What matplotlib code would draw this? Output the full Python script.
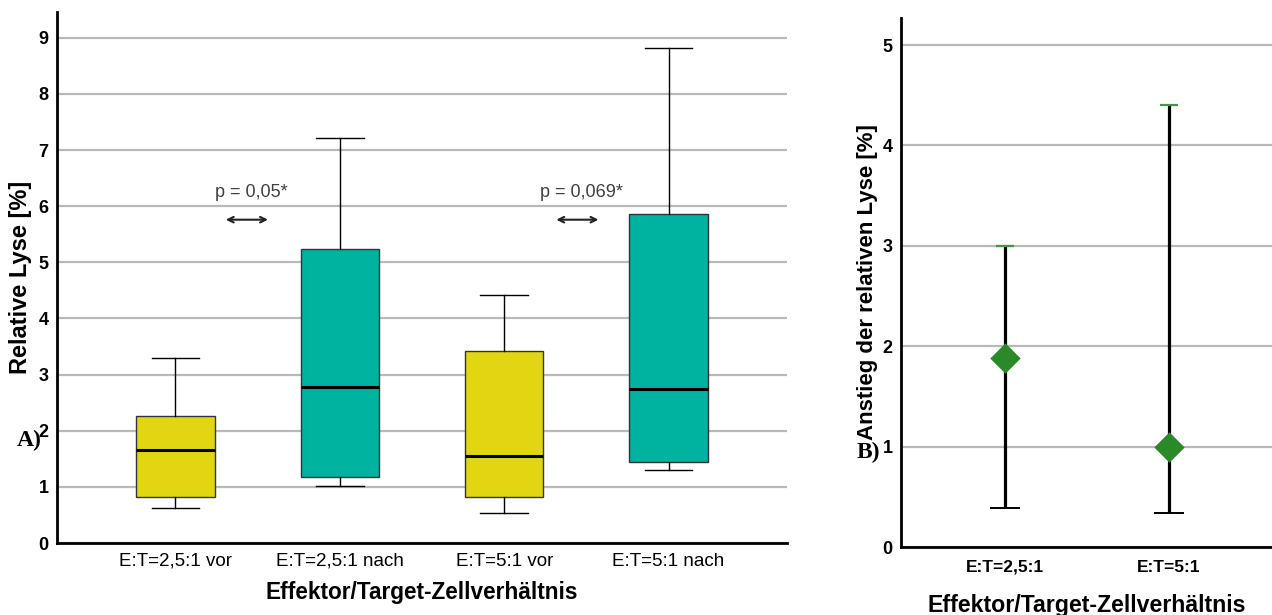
import numpy as np
import matplotlib.pyplot as plt

# Panel A: boxplot values
groups = ['E:T=2,5:1 vor', 'E:T=2,5:1 nach', 'E:T=5:1 vor', 'E:T=5:1 nach']
whislo = [0.62, 1.02, 0.53, 1.30]
q1 = [0.82, 1.18, 0.82, 1.44]
med = [1.66, 2.78, 1.55, 2.74]
q3 = [2.26, 5.24, 3.42, 5.86]
whishi = [3.30, 7.22, 4.42, 8.82]
box_colors = ['#e1d611', '#00b2a0', '#e1d611', '#00b2a0']
p_texts = ['p = 0,05*', 'p = 0,069*']

# Panel B: mean increase with CI
ratios = ['E:T=2,5:1', 'E:T=5:1']
means = [1.88, 1.00]
ci_low = [0.39, 0.34]
ci_high = [3.00, 4.40]

plt.rcParams['font.family'] = ['Liberation Sans', 'DejaVu Sans']

fig = plt.figure(figsize=(12.72, 6.15), dpi=100)
grid_col = '#b9b9b9'

# ---- panel A ----
ax = fig.add_axes([57/1272, 72/615, 730/1272, 531/615])
stats = []
for i in range(len(groups)):
    stats.append({'whislo': whislo[i], 'q1': q1[i], 'med': med[i],
                  'q3': q3[i], 'whishi': whishi[i], 'fliers': []})
bp = ax.bxp(stats, positions=range(len(groups)), widths=0.476, patch_artist=True,
            showfliers=False,
            boxprops=dict(edgecolor='#333333', linewidth=1.0),
            medianprops=dict(color='black', linewidth=2.2),
            whiskerprops=dict(color='black', linewidth=1.0),
            capprops=dict(color='black', linewidth=1.0), capwidths=0.29)
for patch, c in zip(bp['boxes'], box_colors):
    patch.set_facecolor(c)

ax.set_xlim(-0.72, 3.72)
ax.set_ylim(0, 9.46)
ax.set_yticks(range(10))
ax.yaxis.grid(True, color=grid_col, linewidth=1.6)
ax.set_axisbelow(True)
ax.set_xticks(range(len(groups)))
ax.set_xticklabels(groups, fontsize=13.5)
for lab in ax.get_yticklabels():
    lab.set_fontweight('bold')
    lab.set_fontsize(13)
ax.tick_params(length=0, pad=7)
ax.tick_params(axis='y', pad=6)
for s in ['top', 'right']:
    ax.spines[s].set_visible(False)
for s in ['left', 'bottom']:
    ax.spines[s].set_linewidth(2)
ax.set_ylabel('Relative Lyse [%]', fontsize=17, fontweight='bold', labelpad=5)
ax.set_xlabel('Effektor/Target-Zellverhältnis', fontsize=16.3, fontweight='bold', labelpad=8)

for k, xc in enumerate([0.46, 2.47]):
    ax.text(xc, 6.24, p_texts[k], ha='center', va='center', fontsize=13, color='#404040')
    ax.annotate('', xy=(xc - 0.17, 5.76), xytext=(xc + 0.12, 5.76),
                arrowprops=dict(arrowstyle='<->', color='#222222', lw=1.5))

# ---- panel B ----
bx = fig.add_axes([901/1272, 68/615, 371/1272, 529/615])
xs = np.arange(len(ratios))
yerr = [np.array(means) - np.array(ci_low), np.array(ci_high) - np.array(means)]
bx.errorbar(xs, means, yerr=yerr, fmt='none', ecolor='black', elinewidth=2.3,
            capsize=0, zorder=3)
bx.plot(xs, ci_low, ls='none', marker='_', markersize=22, mew=1.4, color='black', zorder=3)
bx.plot(xs, ci_high, ls='none', marker='_', markersize=13, mew=1.6, color='#3f9a3f', zorder=3)
bx.scatter(xs, means, marker='D', s=240, color='#2a8a2a', zorder=4, linewidths=0)
bx.set_xlim(-0.634, 1.63)
bx.set_ylim(0, 5.27)
bx.set_yticks(range(6))
bx.yaxis.grid(True, color=grid_col, linewidth=1.6)
bx.set_axisbelow(True)
bx.set_xticks(xs)
bx.set_xticklabels(ratios, fontsize=12.5, fontweight='bold')
for lab in bx.get_yticklabels():
    lab.set_fontweight('bold')
    lab.set_fontsize(13)
bx.tick_params(length=0, pad=9)
bx.tick_params(axis='y', pad=6)
for s in ['top', 'right']:
    bx.spines[s].set_visible(False)
for s in ['left', 'bottom']:
    bx.spines[s].set_linewidth(2)
bx.set_ylabel('Anstieg der relativen Lyse [%]', fontsize=16, fontweight='bold', labelpad=3)
bx.set_xlabel('Effektor/Target-Zellverhältnis', fontsize=16.7, fontweight='bold', labelpad=14)

fig.text(17/1272, 1 - 440/615, 'A)', fontfamily='Liberation Serif', fontweight='bold',
         fontsize=17, va='center', ha='left')
fig.text(857/1272, 1 - 452/615, 'B)', fontfamily='Liberation Serif', fontweight='bold',
         fontsize=17, va='center', ha='left')

fig.savefig('out.png', dpi=100)
